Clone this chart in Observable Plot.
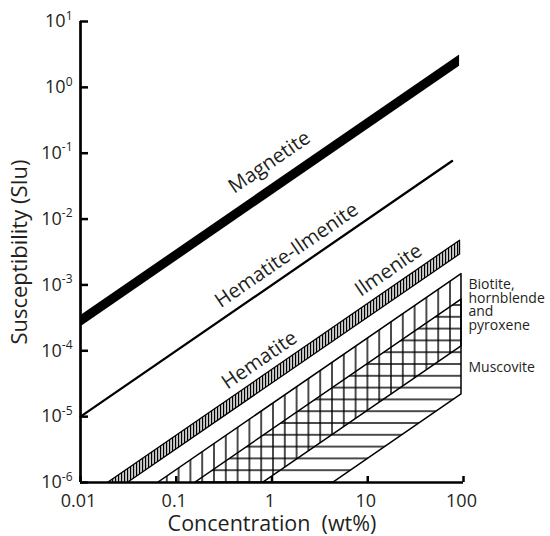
<!DOCTYPE html>
<html><head><meta charset="utf-8">
<script src="https://cdn.jsdelivr.net/npm/d3@7"></script>
<script src="https://cdn.jsdelivr.net/npm/@observablehq/plot@0.6"></script>
<style>body{margin:0;background:#fff}</style>
</head><body><div id="chart"></div>
<script>
// ---- axis ticks ----
const xTicks = [0.01, 0.1, 1, 10, 100];
const xTickLabels = ["0.01", "0.1", "1", "10", "100"];
const yTicks = [1e-6, 1e-5, 1e-4, 1e-3, 1e-2, 1e-1, 1, 10];
const yExponents = ["-6", "-5", "-4", "-3", "-2", "-1", "0", "1"];

// ---- series (concentration wt%, susceptibility SI) ----
const magnetiteConc = [0.01, 91];
const magnetiteLow = [2.3e-4, 2.1];
const magnetiteHigh = [3.4e-4, 3.1];

const hemIlmConc = [0.01, 76];
const hemIlmSusc = [1e-5, 0.076];

const ilmeniteConc = [0.0196, 92];
const ilmeniteLow = [6.2e-7, 2.9e-3];
const ilmeniteHigh = [1e-6, 4.7e-3];

const biotiteConc = [0.0653, 95.3];
const biotiteLow = [8.0e-8, 1.17e-4];
const biotiteHigh = [1e-6, 1.46e-3];

const muscoviteConc = [0.159, 95.3];
const muscoviteLow = [3.6e-8, 2.17e-5];
const muscoviteHigh = [1e-6, 6.0e-4];

// ---- labels ----
const lineLabels = ["Magnetite", "Hematite-Ilmenite", "Hematite", "Ilmenite"];
const lineLabelConc = [0.94, 1.42, 0.74, 16.5];
const lineLabelSusc = [0.073, 2.83e-3, 7.23e-5, 1.68e-3];

const sideLabels = ["Biotite,", "hornblende", "and", "pyroxene", "Muscovite"];
const sideLabelSusc = [1.03e-3, 6.32e-4, 3.88e-4, 2.46e-4, 5.48e-5];

const band = (conc, lo, hi) => conc.map((c, i) => ({c, lo: lo[i], hi: hi[i]}));
const magnetite = band(magnetiteConc, magnetiteLow, magnetiteHigh);
const ilmenite = band(ilmeniteConc, ilmeniteLow, ilmeniteHigh);
const biotite = band(biotiteConc, biotiteLow, biotiteHigh);
const muscovite = band(muscoviteConc, muscoviteLow, muscoviteHigh);
const hemIlm = hemIlmConc.map((c, i) => ({c, s: hemIlmSusc[i]}));
const lineLab = lineLabels.map((t, i) => ({t, c: lineLabelConc[i], s: lineLabelSusc[i]}));
const sideLab = sideLabels.map((t, i) => ({t, s: sideLabelSusc[i]}));

const ink = "#231f20";
const W = 550, H = 536, mL = 80, mR = 87, mT = 21, mB = 54;
const frameW = W - mL - mR, frameH = H - mT - mB;

const svg = Plot.plot({
  width: W, height: H,
  marginLeft: mL, marginRight: mR, marginTop: mT, marginBottom: mB,
  x: {type: "log", domain: [0.01, 100], axis: null},
  y: {type: "log", domain: [1e-6, 10], axis: null},
  style: {fontFamily: "'Open Sans', sans-serif", background: "#fff", color: ink},
  marks: [
    Plot.areaY(biotite, {x: "c", y1: "lo", y2: "hi", fill: "url(#bioHatch)", stroke: "#000", strokeWidth: 1.5, clip: true}),
    Plot.areaY(muscovite, {x: "c", y1: "lo", y2: "hi", fill: "url(#musHatch)", stroke: "#000", strokeWidth: 1.5, clip: true}),
    Plot.areaY(ilmenite, {x: "c", y1: "lo", y2: "hi", fill: "url(#ilmHatch)", stroke: "#000", strokeWidth: 1.3, clip: true}),
    Plot.line(hemIlm, {x: "c", y: "s", stroke: "#000", strokeWidth: 2.3}),
    Plot.areaY(magnetite, {x: "c", y1: "lo", y2: "hi", fill: "#000"}),
    // axes
    Plot.ruleX([0.01], {stroke: "#000", strokeWidth: 2.7}),
    Plot.ruleY([1e-6], {stroke: "#000", strokeWidth: 2.7}),
    Plot.tickY(yTicks, {y: d => d, insetRight: frameW - 8, stroke: "#000", strokeWidth: 2.5}),
    Plot.tickX(xTicks, {x: d => d, insetTop: frameH - 6, stroke: "#000", strokeWidth: 2.5}),
    Plot.text(xTicks, {x: d => d, frameAnchor: "bottom", dy: 19, dx: -2, text: (d, i) => xTickLabels[i], fontSize: 18, fill: ink, textAnchor: "middle", lineAnchor: "middle"}),
    Plot.text(yTicks, {y: d => d, frameAnchor: "left", dx: -8, textAnchor: "end", lineAnchor: "middle", text: (d, i) => "10^" + yExponents[i], fontSize: 18, fill: ink}),
    Plot.text(["Susceptibility (SIu)"], {frameAnchor: "left", dx: -61, rotate: -90, textAnchor: "middle", lineAnchor: "middle", fontSize: 22, fill: ink}),
    Plot.text(["Concentration\u00a0 (wt%)"], {frameAnchor: "bottom", dy: 42, textAnchor: "middle", lineAnchor: "middle", fontSize: 21.5, fill: ink}),
    // in-plot labels
    Plot.text(lineLab, {x: "c", y: "s", text: "t", rotate: -34.5, fontSize: 20, fill: ink}),
    Plot.text(sideLab, {x: () => 100, y: "s", text: "t", dx: 5, textAnchor: "start", lineAnchor: "middle", fontSize: 14, fill: ink})
  ]
});

d3.select(svg).insert("defs", ":first-child").html(`
  <pattern id="ilmHatch" patternUnits="userSpaceOnUse" width="3" height="10"><rect x="0.8" y="0" width="1.5" height="10" fill="#000"/></pattern>
  <pattern id="bioHatch" patternUnits="userSpaceOnUse" x="267.1" y="0" width="11.8" height="10"><rect x="5.2" y="0" width="1.4" height="10" fill="#000"/></pattern>
  <pattern id="musHatch" patternUnits="userSpaceOnUse" x="0" y="476.1" width="10" height="11.8"><rect x="0" y="5.2" width="10" height="1.4" fill="#000"/></pattern>
`);

// superscript exponents on y tick labels
d3.select(svg).selectAll("text").filter(function() {
  return this.childElementCount === 0 && this.textContent.indexOf("^") >= 0;
}).each(function() {
  const parts = this.textContent.split("^");
  this.textContent = parts[0];
  d3.select(this).append("tspan").attr("dy", -7.5).attr("font-size", 12).text(parts[1]);
});

document.getElementById("chart").appendChild(svg);
</script>
</body></html>
